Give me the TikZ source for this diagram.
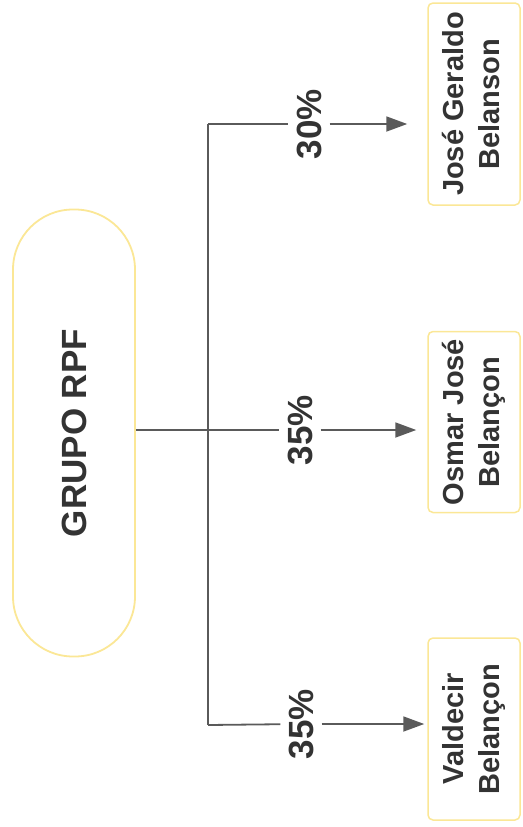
\documentclass[tikz,border=0pt]{standalone}
\usepackage{fontspec}
\usepackage{graphicx}
\setmainfont{Liberation Sans}
\usetikzlibrary{arrows.meta}
\definecolor{lineg}{HTML}{5A5A5A}
\definecolor{txt}{HTML}{333333}
\definecolor{pale}{HTML}{FBE796}
\tikzset{
  grp/.style={draw=pale, line width=1.8pt, fill=white, rounded corners=60pt,
    minimum width=122pt, minimum height=447pt, inner sep=0pt, text=txt,
    font=\bfseries\fontsize{35}{40}\selectfont},
  person/.style={draw=pale, line width=1.5pt, fill=white, rounded corners=5pt,
    minimum width=92pt, inner sep=0pt, text=txt,
    font=\bfseries\fontsize{29}{36}\selectfont},
  pct/.style={inner xsep=8pt, inner ysep=0pt, text=txt,
    font=\bfseries\fontsize{35}{40}\selectfont},
  conn/.style={draw=lineg, line width=1.8pt},
  arr/.style={conn, -{Triangle[length=21pt,width=15pt]}},
}
\begin{document}
\begin{tikzpicture}[x=1pt,y=-1pt]
\useasboundingbox (0,0) rectangle (522,827);
\node[grp] (grupo) at (74,433) {\rotatebox{90}{GRUPO RPF}};
\node[person, minimum height=202pt] (b1) at (474,104)
  {\rotatebox{90}{\begin{tabular}{@{}c@{}}José Geraldo\\Belanson\end{tabular}}};
\node[person, minimum height=181pt] (b2) at (474,422)
  {\rotatebox{90}{\begin{tabular}{@{}c@{}}Osmar José\\Belançon\end{tabular}}};
\node[person, minimum height=182pt] (b3) at (474,729)
  {\rotatebox{90}{\begin{tabular}{@{}c@{}}Valdecir\\Belançon\end{tabular}}};
\coordinate (j1) at (208,124);
\coordinate (j2) at (208,430);
\coordinate (j3) at (208,725);
\node[pct] (l1) at (309,124) {\rotatebox{90}{30\%}};
\node[pct] (l2) at (300,430) {\rotatebox{90}{35\%}};
\node[pct] (l3) at (301,724) {\rotatebox{90}{35\%}};
\draw[conn] (grupo.east |- j2) -- (j2);
\draw[conn] (j1) -- (j3);
\draw[conn] (j1) -- (l1);
\draw[conn] (j2) -- (l2);
\draw[conn] (j3) -- (l3);
\draw[arr, shorten >=20pt] (l1) -- (l1 -| b1.west);
\draw[arr, shorten >=11pt] (l2) -- (l2 -| b2.west);
\draw[arr, shorten >=3pt] (l3) -- (l3 -| b3.west);
\end{tikzpicture}
\end{document}
